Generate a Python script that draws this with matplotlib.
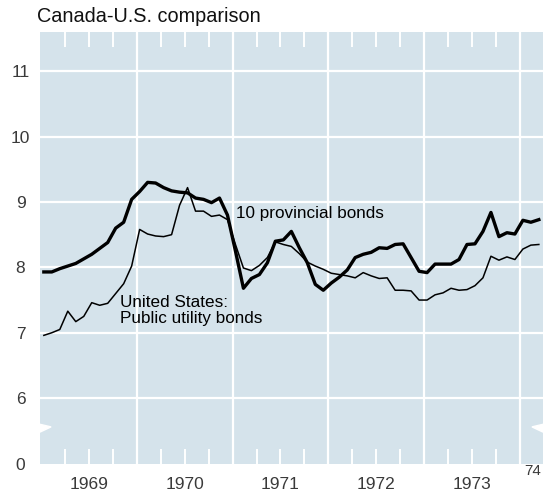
import numpy as np
import matplotlib.pyplot as plt
import matplotlib.transforms as mtransforms

# Monthly long-term bond yields, Jan 1969 - Mar 1974 (percent)
canada = [7.93, 7.93, 7.98, 8.02, 8.06, 8.13, 8.20, 8.29, 8.38, 8.60,
          8.69, 9.04, 9.16, 9.30, 9.29, 9.22, 9.17, 9.15, 9.14, 9.06,
          9.04, 8.99, 9.06, 8.80, 8.25, 7.68, 7.83, 7.89, 8.07, 8.40,
          8.42, 8.55, 8.30, 8.07, 7.74, 7.65, 7.76, 7.85, 7.96, 8.15,
          8.20, 8.23, 8.30, 8.29, 8.35, 8.36, 8.15, 7.94, 7.92, 8.05,
          8.05, 8.05, 8.12, 8.35, 8.36, 8.55, 8.84, 8.47, 8.53, 8.51,
          8.72, 8.69, 8.73]
us_utility = [6.96, 7.00, 7.05, 7.33, 7.17, 7.25, 7.46, 7.42, 7.45, 7.60,
              7.75, 8.02, 8.58, 8.51, 8.48, 8.47, 8.50, 8.95, 9.22, 8.86,
              8.86, 8.78, 8.80, 8.73, 8.35, 7.99, 7.95, 8.03, 8.15, 8.39,
              8.35, 8.32, 8.21, 8.08, 8.02, 7.97, 7.91, 7.89, 7.87, 7.84,
              7.92, 7.87, 7.83, 7.84, 7.65, 7.65, 7.64, 7.50, 7.50, 7.58,
              7.61, 7.68, 7.65, 7.66, 7.72, 7.84, 8.17, 8.11, 8.16, 8.12,
              8.28, 8.34, 8.35]
months = 1969.03 + np.arange(len(canada)) / 12.0

year_labels = ['1969', '1970', '1971', '1972', '1973']
year_pos = [1969.5, 1970.5, 1971.5, 1972.5, 1973.5]
y_ticks = [5, 6, 7, 8, 9, 10, 11]
y_labels = ['0', '6', '7', '8', '9', '10', '11']   # axis broken between 0 and 6

plt.rcParams['font.family'] = ['Liberation Sans', 'DejaVu Sans']

fig = plt.figure(figsize=(5.54, 4.94), dpi=100)
ax = fig.add_axes([40/554, 30.5/494, 503/554, 431.5/494])
ax.set_facecolor('#d5e3eb')
for s in ax.spines.values():
    s.set_visible(False)

ax.set_xlim(1968.99, 1974.24)
ax.set_ylim(5, 11.6)

# white grid at year boundaries and whole percents
for yr in range(1970, 1975):
    ax.axvline(yr, color='white', lw=1.6, zorder=1)
for v in range(6, 12):
    ax.axhline(v, color='white', lw=1.6, zorder=1)

# quarterly notches along top and bottom
ax.set_xticks(np.arange(1969.25, 1974.1, 0.25), minor=True)
ax.set_xticks([])
ax.tick_params(axis='x', which='minor', direction='in', length=11, width=1.4,
               color='white', top=True, bottom=True, labelbottom=False)

ax.set_yticks(y_ticks)
ax.set_yticklabels(y_labels)
ax.tick_params(axis='y', length=0, pad=14, labelsize=12.5, labelcolor='#3a3a3a')
for lab in ax.get_yticklabels():
    lab.set_horizontalalignment('center')

# axis break marks
trans = mtransforms.blended_transform_factory(ax.transAxes, ax.transData)
for x0, sign in [(0.0, 1), (1.0, -1)]:
    ax.fill([x0, x0 + sign*0.022, x0], [5.48, 5.56, 5.60],
            color='white', transform=trans, zorder=2, clip_on=False)

ax.plot(months, us_utility, color='black', lw=1.1, zorder=3,
        solid_joinstyle='round')
ax.plot(months, canada, color='black', lw=2.4, zorder=4,
        solid_joinstyle='round')

# year labels under the axis
xtrans = mtransforms.blended_transform_factory(ax.transData, ax.transAxes)
for p, lab in zip(year_pos, year_labels):
    ax.text(p, -0.048, lab, transform=xtrans, ha='center', va='center',
            fontsize=12.5, color='#3a3a3a')
ax.text(1974.13, -0.018, '74', transform=xtrans, ha='center', va='center',
        fontsize=11, color='#3a3a3a')

ax.text(1971.04, 8.83, '10 provincial bonds', fontsize=12.3, va='center', zorder=5)
ax.text(1969.83, 7.34, 'United States:\nPublic utility bonds', fontsize=12.3,
        va='center', linespacing=1.1, zorder=5)

fig.text(37/554, 1 - 17/494, 'Canada-U.S. comparison', fontsize=14.3,
         va='center', ha='left', color='#111111')

fig.savefig('out.png', dpi=100)
